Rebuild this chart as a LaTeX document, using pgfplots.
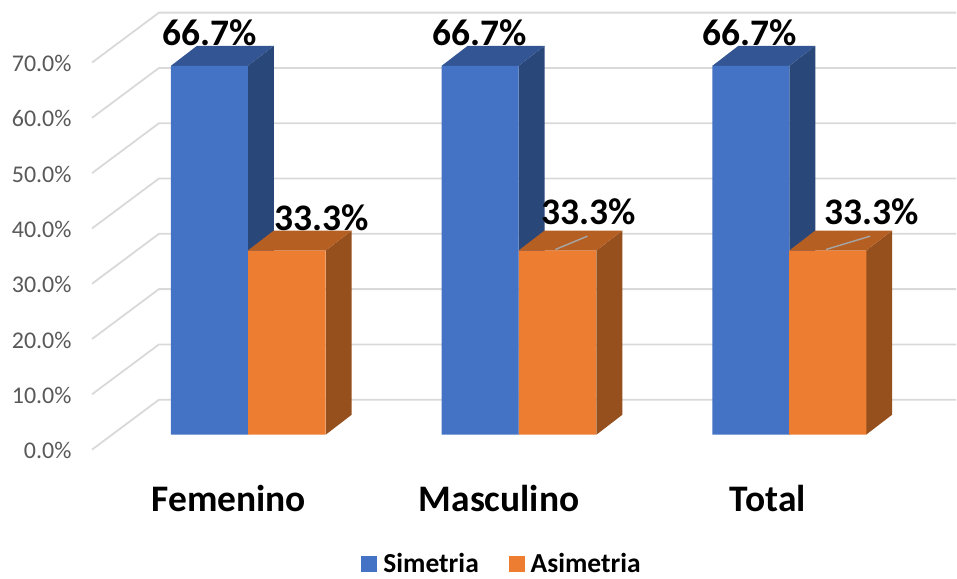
\documentclass[border=0pt]{standalone}
\usepackage{pgfplots}
\pgfplotsset{compat=1.18}
\usepackage{fontspec}
\setmainfont{Carlito}
\definecolor{barblue}{HTML}{4472C4}
\definecolor{bluetop}{HTML}{335593}
\definecolor{blueside}{HTML}{2A4779}
\definecolor{barorange}{HTML}{ED7D31}
\definecolor{orangetop}{HTML}{B65F23}
\definecolor{orangeside}{HTML}{96501D}
\definecolor{gridgray}{HTML}{D9D9D9}
\definecolor{ticktext}{HTML}{595959}
\definecolor{leader}{HTML}{A6A6A6}
\begin{document}
\begin{tikzpicture}
\begin{axis}[
	scale only axis,
	width=957pt, height=576pt,
	xmin=0, xmax=957,
	ymin=-25.474, ymax=78.591,
	clip=false,
	axis line style={draw=none},
	major tick length=0pt,
	xtick={229,499.5,768.5},
	xticklabels={Femenino,Masculino,Total},
	xticklabel style={font=\fontsize{37.5}{38}\selectfont\bfseries, text=black, anchor=center, yshift=77pt},
	ytick={0,10,20,30,40,50,60,70},
	yticklabel={\pgfmathprintnumber[fixed,fixed zerofill,precision=1]{\tick}\%},
	yticklabel style={font=\fontsize{24}{24}\selectfont, text=ticktext, anchor=east, xshift=75pt, yshift=-16pt, /pgf/number format/assume math mode=true},
	legend columns=2,
	legend style={at={(axis cs:502.5,-23.4)}, anchor=center, draw=none, fill=none,
		font=\fontsize{27.5}{28}\selectfont\bfseries,
		/tikz/every even column/.append style={column sep=28pt},
		/tikz/every odd column/.append style={column sep=4pt}},
	legend image code/.code={\fill[#1] (0pt,-8pt) rectangle (16pt,8pt);},
]
% wall grid, floor and side lines
\pgfplotsinvokeforeach{0,10,20,30,40,50,60,70}{
	\addplot[forget plot, color=gridgray, line width=1.8pt] coordinates {(92,#1-2.71)(159,#1+6.32)(957,#1+6.32)};
}

% Simetria
\addplot[forget plot, fill=blueside, draw=none] coordinates {(248,66.7)(274,70.31)(274,3.61)(248,0)} -- cycle;
\addplot[forget plot, fill=blueside, draw=none] coordinates {(519,66.7)(545,70.31)(545,3.61)(519,0)} -- cycle;
\addplot[forget plot, fill=blueside, draw=none] coordinates {(790,66.7)(816,70.31)(816,3.61)(790,0)} -- cycle;
\addplot[forget plot, fill=bluetop, draw=none] coordinates {(171,66.7)(248,66.7)(274,70.31)(197,70.31)} -- cycle;
\addplot[forget plot, fill=bluetop, draw=none] coordinates {(442,66.7)(519,66.7)(545,70.31)(468,70.31)} -- cycle;
\addplot[forget plot, fill=bluetop, draw=none] coordinates {(713,66.7)(790,66.7)(816,70.31)(739,70.31)} -- cycle;
\addplot[ybar, bar width=77pt, bar shift=0pt, fill=barblue, draw=none] coordinates {(209.5,66.7)(480.5,66.7)(751.5,66.7)};
\addlegendentry{Simetria}

% Asimetria
\addplot[forget plot, fill=orangeside, draw=none] coordinates {(326,33.3)(352,36.91)(352,3.61)(326,0)} -- cycle;
\addplot[forget plot, fill=orangeside, draw=none] coordinates {(597,33.3)(623,36.91)(623,3.61)(597,0)} -- cycle;
\addplot[forget plot, fill=orangeside, draw=none] coordinates {(867,33.3)(893,36.91)(893,3.61)(867,0)} -- cycle;
\addplot[forget plot, fill=orangetop, draw=none] coordinates {(248,33.3)(326,33.3)(352,36.91)(274,36.91)} -- cycle;
\addplot[forget plot, fill=orangetop, draw=none] coordinates {(519,33.3)(597,33.3)(623,36.91)(545,36.91)} -- cycle;
\addplot[forget plot, fill=orangetop, draw=none] coordinates {(790,33.3)(867,33.3)(893,36.91)(816,36.91)} -- cycle;
\addplot[ybar, bar width=77.5pt, bar shift=0pt, fill=barorange, draw=none] coordinates {(287,33.3)(558,33.3)(828.5,33.3)};
\addlegendentry{Asimetria}

% leader lines
\addplot[forget plot, color=leader, line width=1.4pt] coordinates {(556,33.5)(588,35.9)};
\addplot[forget plot, color=leader, line width=1.4pt] coordinates {(827,33.5)(871,35.9)};

% data labels
\def\lab{\fontsize{37.5}{38}\selectfont\bfseries}
\node[font=\lab] at (axis cs:210,72.6) {66.7\%};
\node[font=\lab] at (axis cs:480,72.6) {66.7\%};
\node[font=\lab] at (axis cs:750,72.6) {66.7\%};
\node[font=\lab] at (axis cs:321.5,39.2) {33.3\%};
\node[font=\lab] at (axis cs:589,40.3) {33.3\%};
\node[font=\lab] at (axis cs:872,40.3) {33.3\%};
\end{axis}
\end{tikzpicture}
\end{document}
